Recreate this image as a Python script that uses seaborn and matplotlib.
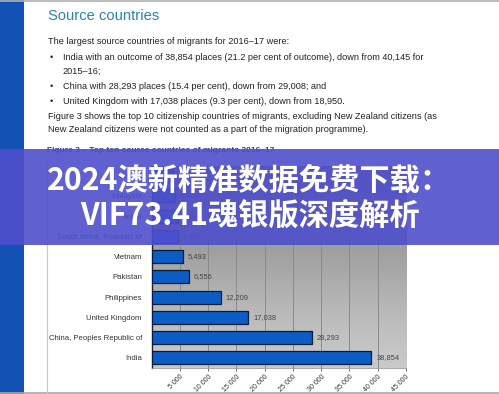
import numpy as np
import pandas as pd
import matplotlib
matplotlib.use("Agg")
import matplotlib.pyplot as plt
import seaborn as sns
from matplotlib.patches import Rectangle
from matplotlib.lines import Line2D

# ---- data ----
countries = ["Ireland", "Malaysia", "Nepal", "South Africa, Republic of", "Vietnam",
             "Pakistan", "Philippines", "United Kingdom", "China, Peoples Republic of", "India"]
values = [3800, 4049, 4590, 4589, 5493, 6556, 12209, 17038, 28293, 38854]
xticks = [5000, 10000, 15000, 20000, 25000, 30000, 35000, 40000, 45000]
xtick_labels = ["5 000", "10 000", "15 000", "20 000", "25 000", "30 000", "35 000", "40 000", "45 000"]

title_text = "Source countries"
intro = "The largest source countries of migrants for 2016\u201317 were:"
bullets = [
    ["India with an outcome of 38,854 places (21.2 per cent of outcome), down from 40,145 for",
     "2015\u201316;"],
    ["China with 28,293 places (15.4 per cent), down from 29,008; and"],
    ["United Kingdom with 17,038 places (9.3 per cent), down from 18,950."],
]
para = ["Figure 3 shows the top 10 citizenship countries of migrants, excluding New Zealand citizens (as",
        "New Zealand citizens were not counted as a part of the migration programme)."]
caption = "Figure 3 \u2013 Top ten source countries of migrants 2016\u201317"
overlay_lines = ["2024澳新精准数据免费下载：", "VIF73.41魂银版深度解析"]

sns.set_theme(style="white")
plt.rcParams['font.family'] = ['Liberation Sans', 'DejaVu Sans']

W, H = 499, 394
fig = plt.figure(figsize=(W / 100, H / 100), dpi=100)
fig.patch.set_facecolor("white")

def fx(x):
    return x / W

def fy(y):
    return 1 - y / H

# page decorations
fig.add_artist(Rectangle((0, 0), fx(24), 1, transform=fig.transFigure,
                         facecolor="#1352b4", edgecolor="none", zorder=1))
fig.add_artist(Line2D([0, 1], [fy(0.7), fy(0.7)], transform=fig.transFigure,
                      color="#b0b0b0", lw=1.2, zorder=1))
fig.add_artist(Line2D([0, 1], [fy(392.5), fy(392.5)], transform=fig.transFigure,
                      color="#a8a8a8", lw=1.2, zorder=1))
fig.add_artist(Line2D([fx(46.5), fx(46.5)], [fy(163), 0], transform=fig.transFigure,
                      color="#c8c8c8", lw=0.8, zorder=1))

# text block
txt_color = "#222222"
fs = 6.6
fig.text(fx(48), fy(16), title_text, fontsize=10.6, color="#2a85a8", va="center", ha="left")
fig.text(fx(48), fy(41.5), intro, fontsize=fs, color=txt_color, va="center", ha="left")
ys = [[58, 71.5], [86.5], [101]]
for lines, yy in zip(bullets, ys):
    fig.text(fx(49.5), fy(yy[0]), "\u2022", fontsize=fs, color=txt_color, va="center", ha="left")
    for line, y in zip(lines, yy):
        fig.text(fx(62.7), fy(y), line, fontsize=fs, color=txt_color, va="center", ha="left")
fig.text(fx(48), fy(116.5), para[0], fontsize=fs, color=txt_color, va="center", ha="left")
fig.text(fx(48), fy(130), para[1], fontsize=fs, color=txt_color, va="center", ha="left")
fig.text(fx(47), fy(151), caption, fontsize=6.0, color="#2b3f8c", va="center", ha="left",
         fontweight="bold")

# chart
left, right, top, bottom = 151.7, 406.0, 165.5, 368.0
ax = fig.add_axes([fx(left), fy(bottom), fx(right - left), (bottom - top) / H])
df = pd.DataFrame({"country": countries, "value": values})
sns.barplot(data=df, y="country", x="value", orient="h", ax=ax, color="#0b5cc4",
            saturation=1, width=0.64, edgecolor="#061a3a", linewidth=0.9, zorder=3)
grad = np.linspace(0, 1, 256).reshape(-1, 1)
ax.imshow(grad, extent=[0, 1, 0, 1], transform=ax.transAxes, aspect="auto",
          cmap="Greys", vmin=-1.2, vmax=2.6, origin="lower", zorder=0)
ax.set_xlim(0, 45000)
ax.set_ylim(9.5, -0.5)
ax.set_xticks(xticks)
ax.set_xticklabels(xtick_labels, rotation=45, ha="right", va="top", rotation_mode="anchor",
                   fontsize=5.0, color="#333333")
ax.tick_params(axis="x", length=2, width=0.6, color="#555555", pad=1.5, bottom=True)
ax.tick_params(axis="y", length=0, pad=7, labelsize=5.6, labelcolor="#333333")
ax.set_xlabel("")
ax.set_ylabel("")
for xv in xticks:
    ax.axvline(xv, color="#8a8a8a", lw=0.7, zorder=1)
for s in ["top", "right"]:
    ax.spines[s].set_visible(False)
ax.spines["left"].set_color("#222222")
ax.spines["left"].set_linewidth(1.0)
ax.spines["bottom"].set_color("#999999")
ax.spines["bottom"].set_linewidth(0.6)
for i, v in enumerate(values):
    ax.text(v + 900, i, f"{v:,}", fontsize=5.4, color="#444444", va="center", ha="left", zorder=4)

# overlay band
fig.add_artist(Rectangle((0, fy(245)), 1, (245 - 149) / H, transform=fig.transFigure,
                         facecolor="#4f4fcc", edgecolor="none", alpha=0.9, zorder=10))
for line, y in zip(overlay_lines, [181, 216]):
    fig.text(0.5, fy(y), line, fontsize=21.8, color="white", fontweight="heavy", ha="center",
             va="center", family=["Noto Sans CJK SC", "DejaVu Sans"], zorder=11)

fig.savefig("out.png", dpi=100)
